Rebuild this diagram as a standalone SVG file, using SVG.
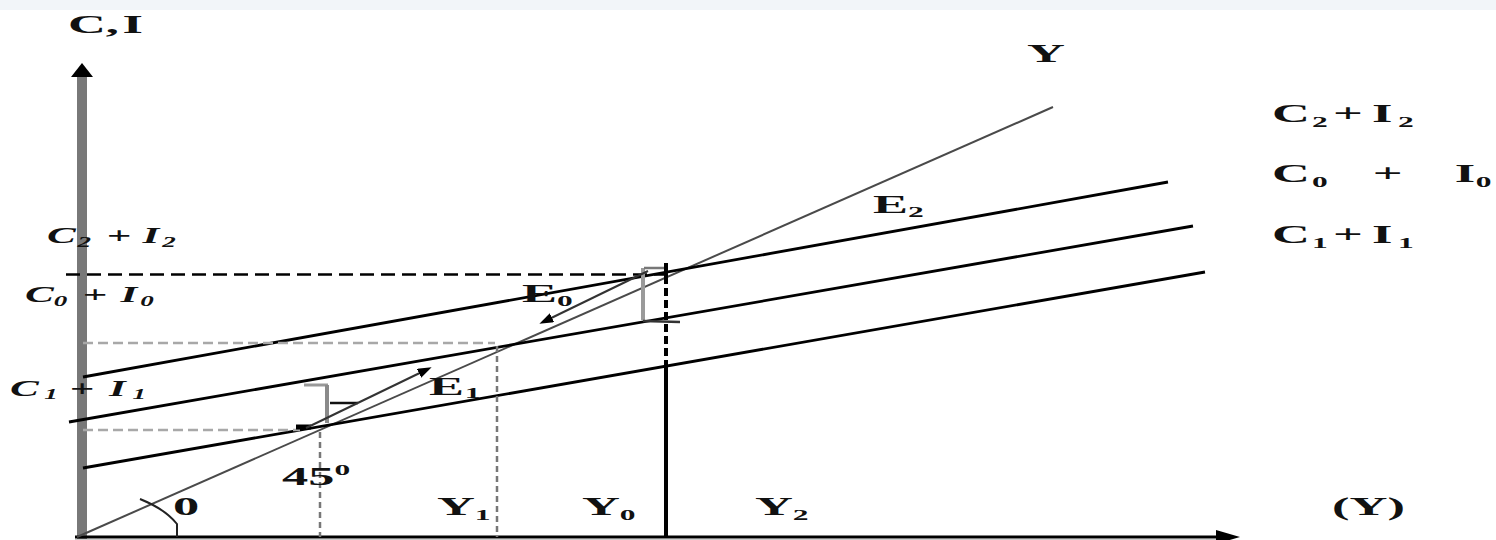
<svg xmlns="http://www.w3.org/2000/svg" width="1496" height="540" viewBox="0 0 1496 540">
<defs>
<style>
.t{font-family:"Liberation Serif","Times New Roman",serif;font-weight:bold;font-size:25px;fill:#111}
.ti{font-family:"Liberation Serif","Times New Roman",serif;font-weight:bold;font-style:italic;font-size:24px;fill:#111}
.s{font-size:15px}
.ci{stroke:#000;stroke-width:2.8;fill:none}
.gd{stroke:#a8a8a8;stroke-width:2.5;stroke-dasharray:10 5;fill:none}
.gv{stroke:#777;stroke-width:2.5;stroke-dasharray:6 4;fill:none}
.arr{stroke:#333;stroke-width:2;fill:none;marker-end:url(#ah)}
</style>
<marker id="ah" markerWidth="14" markerHeight="10" refX="10" refY="5" orient="auto" markerUnits="userSpaceOnUse" viewBox="0 0 14 10">
<path d="M0,0 L14,5 L0,10 Z" fill="#000"/>
</marker>
</defs>
<rect x="0" y="0" width="1496" height="540" fill="#fff"/>
<rect x="0" y="0" width="1496" height="10" fill="#f2f5f9"/>

<g id="axes">
<rect x="77" y="72" width="10" height="468" fill="#787878"/>
<polygon points="82,63 93,77 71,77" fill="#000"/>
<line x1="75" y1="537" x2="1222" y2="537" stroke="#000" stroke-width="3"/>
<line x1="75" y1="539.5" x2="1222" y2="539.5" stroke="#ccc" stroke-width="1"/>
<polygon points="1240,537 1216,530 1216,544" fill="#000"/>
</g>

<g id="connectors">
<line x1="77" y1="537" x2="1053" y2="107" stroke="#4a4a4a" stroke-width="2"/>
<line class="ci" x1="83" y1="377" x2="1168" y2="182"/>
<line class="ci" x1="69" y1="422" x2="1193" y2="226"/>
<line class="ci" x1="83" y1="468" x2="1205" y2="272"/>
<line x1="66" y1="274.5" x2="664" y2="274.5" stroke="#000" stroke-width="2.6" stroke-dasharray="14 7"/>
<line x1="666" y1="263" x2="666" y2="276" stroke="#000" stroke-width="4"/>
<line x1="666" y1="276" x2="666" y2="365" stroke="#000" stroke-width="4" stroke-dasharray="8 4"/>
<line x1="666" y1="365" x2="666" y2="537" stroke="#000" stroke-width="4"/>
<line class="gd" x1="83" y1="343" x2="495" y2="343"/>
<line class="gv" x1="497" y1="346" x2="497" y2="537"/>
<line class="gd" x1="83" y1="430" x2="300" y2="430"/>
<line class="gv" x1="320" y1="432" x2="320" y2="537"/>
<line x1="296" y1="427" x2="311" y2="427" stroke="#000" stroke-width="5"/>
<path d="M140,499 Q165,509 177,524 L177,537" stroke="#222" stroke-width="2" fill="none"/>
<line x1="304" y1="385" x2="328" y2="385" stroke="#999" stroke-width="3"/>
<line x1="327" y1="385" x2="327" y2="423" stroke="#8a8a8a" stroke-width="4"/>
<line x1="330" y1="403" x2="358" y2="403" stroke="#111" stroke-width="2.5"/>
<line x1="643" y1="268" x2="643" y2="320" stroke="#9a9a9a" stroke-width="4"/>
<line x1="644" y1="268" x2="664" y2="268" stroke="#777" stroke-width="2.5"/>
<line x1="643" y1="321" x2="680" y2="322" stroke="#333" stroke-width="2.5"/>
<line class="arr" x1="306" y1="428" x2="428" y2="369"/>
<line class="arr" x1="648" y1="271" x2="543" y2="322"/>
</g>

<g id="labels">
<text class="t" transform="translate(68,33) scale(2.1,1)"><tspan x="0" y="0">C</tspan><tspan x="18" y="0">,</tspan><tspan x="26" y="0">I</tspan></text>
<text class="t" transform="translate(1027,62) scale(2.1,1)">Y</text>

<text class="t" transform="translate(1272,122) scale(2.1,1)"><tspan x="0" y="0">C</tspan><tspan class="s" x="19" y="5">2</tspan><tspan x="29" y="0">+</tspan><tspan x="47.6" y="0">I</tspan><tspan class="s" x="60" y="5">2</tspan></text>
<text class="t" transform="translate(1272,182) scale(2.1,1)"><tspan x="0" y="0">C</tspan><tspan class="s" x="19" y="5">0</tspan><tspan x="48" y="0">+</tspan><tspan x="87" y="0">I</tspan><tspan class="s" x="97" y="5">0</tspan></text>
<text class="t" transform="translate(1272,243) scale(2.1,1)"><tspan x="0" y="0">C</tspan><tspan class="s" x="19" y="5">1</tspan><tspan x="29" y="0">+</tspan><tspan x="47.6" y="0">I</tspan><tspan class="s" x="60" y="5">1</tspan></text>

<text class="ti" transform="translate(47,243) scale(1.8,1)"><tspan x="0" y="0">C</tspan><tspan class="s" x="17" y="4">2</tspan><tspan x="33" y="0">+</tspan><tspan x="53" y="0">I</tspan><tspan class="s" x="64" y="4">2</tspan></text>
<text class="ti" transform="translate(25,302) scale(1.8,1)"><tspan x="0" y="0">C</tspan><tspan class="s" x="16" y="4">0</tspan><tspan x="32" y="0">+</tspan><tspan x="53" y="0">I</tspan><tspan class="s" x="64" y="4">0</tspan></text>
<text class="ti" transform="translate(10,396) scale(1.8,1)"><tspan x="0" y="0">C</tspan><tspan class="s" x="19" y="3">1</tspan><tspan x="33" y="0">+</tspan><tspan x="55" y="0">I</tspan><tspan class="s" x="68" y="3">1</tspan></text>

<text class="t" transform="translate(873,213) scale(2.1,1)"><tspan x="0" y="0">E</tspan><tspan class="s" x="16.7" y="4">2</tspan></text>
<text class="t" transform="translate(522,302) scale(2.1,1)"><tspan x="0" y="0">E</tspan><tspan class="s" x="16.7" y="4">0</tspan></text>
<text class="t" transform="translate(429,395) scale(2.1,1)"><tspan x="0" y="0">E</tspan><tspan class="s" x="17" y="3">1</tspan></text>

<text class="t" transform="translate(173,515) scale(2.1,1)">0</text>
<text class="t" transform="translate(282,485) scale(2.1,1)"><tspan x="0" y="0">4</tspan><tspan x="12.5" y="0">5</tspan><tspan class="s" x="25" y="-10">0</tspan></text>
<text class="t" transform="translate(437,515) scale(2.1,1)"><tspan x="0" y="0">Y</tspan><tspan class="s" x="18" y="5">1</tspan></text>
<text class="t" transform="translate(582,515) scale(2.1,1)"><tspan x="0" y="0">Y</tspan><tspan class="s" x="18" y="5">0</tspan></text>
<text class="t" transform="translate(755,515) scale(2.1,1)"><tspan x="0" y="0">Y</tspan><tspan class="s" x="18" y="5">2</tspan></text>
<text class="t" transform="translate(1332,515) scale(2.1,1)">(Y)</text>
</g>
</svg>
